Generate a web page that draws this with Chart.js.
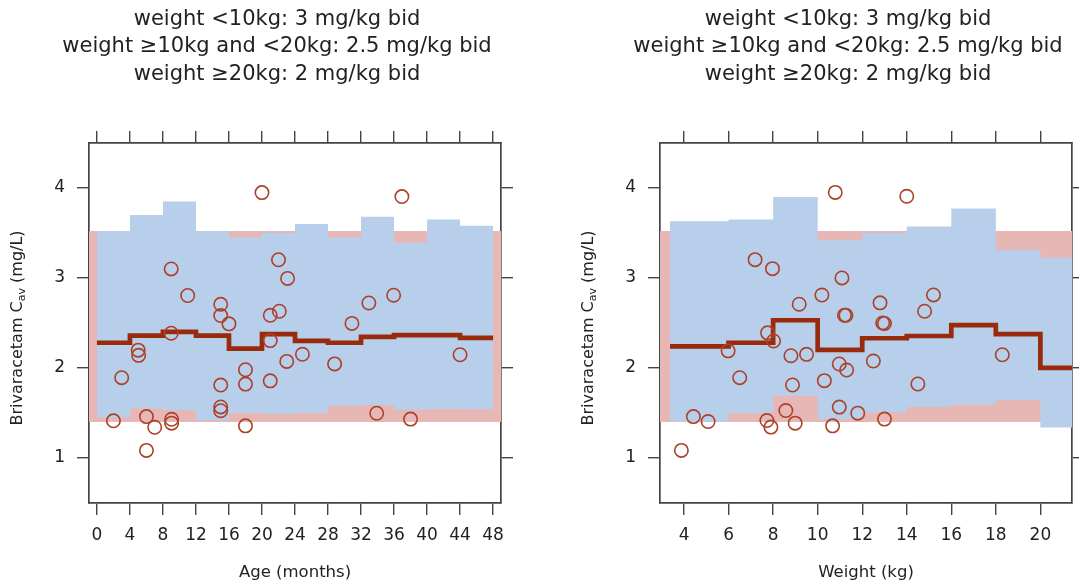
<!DOCTYPE html>
<html>
<head>
<meta charset="utf-8">
<script src="https://cdn.jsdelivr.net/npm/chart.js@4.4.0/dist/chart.umd.min.js"></script>
<style>
  html, body { margin: 0; padding: 0; background: #fff; overflow: hidden; }
  body { width: 1079px; height: 587px; position: relative; }
  .panel { position: absolute; top: 0; width: 540px; height: 587px; }
  #agePanel { left: 0; }
  #weightPanel { left: 571px; }
</style>
</head>
<body>
<div class="panel" id="agePanel"><canvas id="ageChart" width="540" height="587"></canvas></div>
<div class="panel" id="weightPanel"><canvas id="weightChart" width="540" height="587"></canvas></div>
<script>
const titleLines = [
  'weight <10kg: 3 mg/kg bid',
  'weight \u226510kg and <20kg: 2.5 mg/kg bid',
  'weight \u226520kg: 2 mg/kg bid'
];

// reference range (pink band)
const refLow = 1.4;
const refHigh = 3.52;

const concRange = [0.5, 4.5];
const concTicks = [1, 2, 3, 4];

// age panel
const ageRange = [-0.96, 48.96];
const ageTicks = [0, 4, 8, 12, 16, 20, 24, 28, 32, 36, 40, 44, 48];
const ageBinEdges = [0, 4, 8, 12, 16, 20, 24, 28, 32, 36, 40, 44, 48];
const agePiHigh = [3.52, 3.70, 3.85, 3.52, 3.45, 3.50, 3.60, 3.45, 3.68, 3.39, 3.65, 3.58];
const agePiLow = [1.45, 1.55, 1.53, 1.42, 1.50, 1.49, 1.50, 1.58, 1.59, 1.535, 1.545, 1.54];
const ageMedian = [2.28, 2.36, 2.40, 2.36, 2.215, 2.375, 2.30, 2.28, 2.345, 2.365, 2.365, 2.335];
const ageObs = [2.0, 3.0, 5.0, 5.05, 6.0, 6.0, 7.0, 9.0, 9.0, 9.05, 9.05, 11.0, 15.0, 15.0, 15.0,
  15.0, 15.0, 16.0, 18.0, 18.0, 18.0, 20.0, 21.0, 21.0, 21.0, 22.0, 22.1, 23.1, 23.0, 24.9,
  28.8, 30.9, 32.95, 33.9, 35.95, 36.95, 38.0, 44.0];
const ageConc = [1.413, 1.892, 2.198, 2.14, 1.46, 1.084, 1.341, 3.10, 2.386, 1.43, 1.387, 2.805,
  2.707, 2.582, 1.81, 1.567, 1.525, 2.49, 1.98, 1.821, 1.357, 3.948, 2.585, 2.304, 1.857, 3.202,
  2.63, 2.995, 2.073, 2.152, 2.045, 2.495, 2.722, 1.497, 2.808, 3.904, 1.432, 2.147];

// weight panel
const weightRange = [2.92, 21.42];
const weightTicks = [4, 6, 8, 10, 12, 14, 16, 18, 20];
const weightBinEdges = [3.37, 6, 8, 10, 12, 14, 16, 18, 20, 21.42];
const weightPiHigh = [3.63, 3.65, 3.90, 3.42, 3.50, 3.57, 3.77, 3.31, 3.225];
const weightPiLow = [1.405, 1.50, 1.69, 1.43, 1.505, 1.57, 1.59, 1.645, 1.34];
const weightMedian = [2.24, 2.28, 2.53, 2.20, 2.33, 2.355, 2.475, 2.375, 2.0];
const weightObs = [3.88, 4.42, 5.08, 5.98, 6.5, 7.19, 7.97, 7.75, 8.02, 7.72, 7.9, 8.57, 8.8, 8.87,
  8.99, 9.17, 9.5, 10.19, 10.3, 10.79, 10.67, 10.97, 10.97, 11.09, 11.2, 11.27, 11.3, 11.8, 12.5,
  12.8, 12.92, 13.0, 13.0, 14.0, 14.5, 14.8, 15.2, 18.29];
const weightConc = [1.084, 1.46, 1.405, 2.19, 1.892, 3.203, 3.103, 2.39, 2.30, 1.416, 1.343, 1.527,
  2.136, 1.811, 1.387, 2.708, 2.151, 2.81, 1.859, 3.95, 1.357, 1.565, 2.044, 3.0, 2.586, 2.586,
  1.977, 1.498, 2.077, 2.723, 2.50, 2.494, 1.432, 3.907, 1.822, 2.63, 2.811, 2.147];

const FONT = 'DejaVu Sans';
const TEXT = '#222';
const AXIS = '#444';

function steps(edges, values) {
  const pts = [];
  values.forEach((v, i) => {
    pts.push({x: edges[i], y: v});
    pts.push({x: edges[i + 1], y: v});
  });
  return pts;
}

function fixedTicks(values) {
  return (axis) => { axis.ticks = values.map((v) => ({value: v})); };
}

// y axis label with subscript, drawn by hand because scale titles can't do it
const yLabelPlugin = {
  id: 'yLabel',
  afterDraw(chart) {
    const ctx = chart.ctx;
    const area = chart.chartArea;
    const parts = [
      {t: 'Brivaracetam C', size: 16, dy: 0},
      {t: 'av', size: 11, dy: 4},
      {t: ' (mg/L)', size: 16, dy: 0}
    ];
    ctx.save();
    let total = 0;
    parts.forEach((p) => {
      ctx.font = p.size + 'px "' + FONT + '"';
      p.w = ctx.measureText(p.t).width;
      total += p.w;
    });
    ctx.translate(area.left - 71, (area.top + area.bottom) / 2 + 5);
    ctx.rotate(-Math.PI / 2);
    ctx.fillStyle = TEXT;
    ctx.textBaseline = 'middle';
    let x = -total / 2;
    parts.forEach((p) => {
      ctx.font = p.size + 'px "' + FONT + '"';
      ctx.fillText(p.t, x, p.dy);
      x += p.w;
    });
    ctx.restore();
  }
};

function makePanel(canvasId, opts) {
  const grid = {drawOnChartArea: false, tickLength: 12, color: AXIS, lineWidth: 1.4};
  const border = {display: true, color: AXIS, width: 1.7};
  const tickFont = {family: FONT, size: 17};

  return new Chart(document.getElementById(canvasId).getContext('2d'), {
    type: 'line',
    data: {
      datasets: [
        {
          label: 'observed',
          data: opts.obs.map((x, i) => ({x: x, y: opts.conc[i]})),
          showLine: false,
          pointRadius: 6.7,
          pointHoverRadius: 6.7,
          pointBorderWidth: 1.6,
          pointBorderColor: '#ab4129',
          pointBackgroundColor: 'rgba(0,0,0,0)'
        },
        {
          label: 'median',
          data: steps(opts.edges, opts.median),
          borderColor: '#992a0c',
          borderWidth: 4.7,
          borderJoinStyle: 'miter',
          borderCapStyle: 'butt',
          pointRadius: 0,
          fill: false
        },
        {
          label: 'P95',
          data: steps(opts.edges, opts.hi),
          borderColor: 'rgba(0,0,0,0)',
          borderWidth: 0,
          pointRadius: 0,
          backgroundColor: '#b8cfeb',
          fill: '+1'
        },
        {
          label: 'P5',
          data: steps(opts.edges, opts.lo),
          borderColor: 'rgba(0,0,0,0)',
          borderWidth: 0,
          pointRadius: 0,
          fill: false
        },
        {
          label: 'reference',
          data: [{x: opts.range[0], y: refHigh}, {x: opts.range[1], y: refHigh}],
          borderColor: 'rgba(0,0,0,0)',
          borderWidth: 0,
          pointRadius: 0,
          backgroundColor: '#e6b7b4',
          fill: {value: refLow}
        }
      ]
    },
    options: {
      responsive: false,
      animation: false,
      events: [],
      layout: {padding: {left: 41, right: 27, top: 0, bottom: 0}},
      plugins: {
        legend: {display: false},
        tooltip: {enabled: false},
        title: {
          display: true,
          text: titleLines,
          color: TEXT,
          font: {family: FONT, size: 21, weight: 'normal', lineHeight: 1.3},
          padding: {top: 6, bottom: 43}
        }
      },
      scales: {
        x: {
          type: 'linear',
          position: 'bottom',
          min: opts.range[0],
          max: opts.range[1],
          afterBuildTicks: fixedTicks(opts.ticks),
          afterFit: (s) => { s.height = 84; },
          ticks: {font: tickFont, color: TEXT, padding: 10, maxRotation: 0, autoSkip: false},
          grid: grid,
          border: border,
          title: {display: true, text: opts.xTitle, color: TEXT,
                  font: {family: FONT, size: 16.5}, padding: {top: 0, bottom: 4}}
        },
        x2: {
          type: 'linear',
          position: 'top',
          min: opts.range[0],
          max: opts.range[1],
          afterBuildTicks: fixedTicks(opts.ticks),
          afterFit: (s) => { s.height = 12; },
          ticks: {display: false},
          grid: grid,
          border: border
        },
        y: {
          type: 'linear',
          position: 'left',
          min: concRange[0],
          max: concRange[1],
          afterBuildTicks: fixedTicks(concTicks),
          afterFit: (s) => { s.width = 48; },
          ticks: {font: tickFont, color: TEXT, padding: 12},
          grid: grid,
          border: border
        },
        y2: {
          type: 'linear',
          position: 'right',
          min: concRange[0],
          max: concRange[1],
          afterBuildTicks: fixedTicks(concTicks),
          afterFit: (s) => { s.width = 12; },
          ticks: {display: false},
          grid: grid,
          border: border
        }
      }
    },
    plugins: [yLabelPlugin]
  });
}

makePanel('ageChart', {
  range: ageRange, ticks: ageTicks, xTitle: 'Age (months)',
  edges: ageBinEdges, hi: agePiHigh, lo: agePiLow, median: ageMedian,
  obs: ageObs, conc: ageConc
});

makePanel('weightChart', {
  range: weightRange, ticks: weightTicks, xTitle: 'Weight (kg)',
  edges: weightBinEdges, hi: weightPiHigh, lo: weightPiLow, median: weightMedian,
  obs: weightObs, conc: weightConc
});
</script>
</body>
</html>
